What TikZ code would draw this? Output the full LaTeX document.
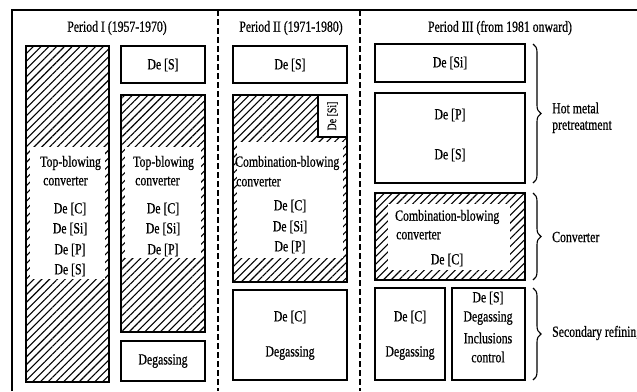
\documentclass[tikz,border=0pt]{standalone}
\usepackage{fontspec}
\setmainfont{Liberation Serif}[FakeStretch=0.76,FakeBold=0.6]
\usetikzlibrary{patterns.meta,decorations.pathreplacing}
\begin{document}
\begin{tikzpicture}[x=1pt,y=-1pt,
  box/.style={draw, line width=2pt, rectangle, inner sep=0pt, outer sep=0pt},
  whitebox/.style={box, fill=white},
  hatch/.style={pattern={Lines[angle=45,distance=5.5pt,line width=1.1pt]}},
  txt/.style={inner sep=0pt, font=\fontsize{15.5}{17}\selectfont},
  smalltxt/.style={inner sep=0pt, font=\fontsize{13}{15}\selectfont},
  ltxt/.style={txt, anchor=west},
  divider/.style={line width=1.3pt, dash pattern=on 6pt off 3pt},
  frame/.style={line width=1.6pt},
  bracestyle/.style={decorate, decoration={brace, amplitude=8pt}, line width=1.1pt}]
\useasboundingbox (0,0) rectangle (637,391);

% outer frame and dividers
\coordinate (tl) at (12,10);
\coordinate (tr) at (637,10);
\coordinate (bl) at (12,391);
\coordinate (d1t) at (218,10);
\coordinate (d1b) at (218,391);
\coordinate (d2t) at (360,10);
\coordinate (d2b) at (360,391);
\draw[frame] (bl) -- (tl) -- (tr);
\draw[divider] (d1t) -- (d1b);
\draw[divider] (d2t) -- (d2b);

% titles
\node[txt] (t1) at (117,28) {Period I (1957-1970)};
\node[txt] (t2) at (291,28) {Period II (1971-1980)};
\node[txt] (t3) at (500,28) {Period III (from 1981 onward)};

% hatched areas
\fill[hatch] (26,46) rectangle (109,382);
\fill[white] (30,147) rectangle (105,279);
\fill[hatch] (121,95) rectangle (205,332);
\fill[white] (125,147) rectangle (201,258);
\fill[hatch] (233,95) rectangle (347,282);
\fill[white] (237,142) rectangle (343,258);
\fill[hatch] (375,193) rectangle (525,280);
\fill[white] (388,204) rectangle (510,270);

% Period I boxes
\node[box, minimum width=83pt, minimum height=336pt] (p1conv) at (67.5,214) {};
\node[box, minimum width=84pt, minimum height=37pt] (p1des) at (163,64.5) {};
\node[box, minimum width=84pt, minimum height=237pt] (p1conv2) at (163,213.5) {};
\node[box, minimum width=84pt, minimum height=40pt] (p1deg) at (163,361) {};

% Period II boxes
\node[box, minimum width=114pt, minimum height=37pt] (p2des) at (290,64.5) {};
\node[box, minimum width=114pt, minimum height=187pt] (p2conv) at (290,188.5) {};
\node[whitebox, minimum width=29pt, minimum height=42pt] (p2dsi) at (332.5,116) {};
\node[box, minimum width=114pt, minimum height=90pt] (p2deg) at (290,335) {};

% Period III boxes
\node[box, minimum width=150pt, minimum height=38pt] (p3dsi) at (450,63) {};
\node[box, minimum width=150pt, minimum height=90pt] (p3dps) at (450,138) {};
\node[box, minimum width=150pt, minimum height=87pt] (p3conv) at (450,236.5) {};
\node[box, minimum width=70pt, minimum height=92pt] (p3dc) at (410,334) {};
\node[box, minimum width=73pt, minimum height=92pt] (p3ds) at (488.5,334) {};

% Period I texts
\node[ltxt] (a1) at (40,163) {Top-blowing};
\node[ltxt] (a2) at (43,181) {converter};
\node[txt] (a3) at (70,209) {De [C]};
\node[txt] (a4) at (70,229) {De [Si]};
\node[txt] (a5) at (70,250) {De [P]};
\node[txt] (a6) at (70,270) {De [S]};
\node[txt] (b0) at (163,65) {De [S]};
\node[ltxt] (b1) at (133,163) {Top-blowing};
\node[ltxt] (b2) at (135,181) {converter};
\node[txt] (b3) at (163,209) {De [C]};
\node[txt] (b4) at (163,229) {De [Si]};
\node[txt] (b5) at (163,250) {De [P]};
\node[txt] (b6) at (163,361) {Degassing};

% Period II texts
\node[txt] (c0) at (290,65) {De [S]};
\node[smalltxt, rotate=90] (c1) at (332.5,116) {De [Si]};
\node[ltxt] (c2) at (235,163) {Combination-blowing};
\node[ltxt] (c3) at (236,182) {converter};
\node[txt] (c4) at (290,206) {De [C]};
\node[txt] (c5) at (290,227) {De [Si]};
\node[txt] (c6) at (290,247) {De [P]};
\node[txt] (c7) at (290,317) {De [C]};
\node[txt] (c8) at (290,353) {Degassing};

% Period III texts
\node[txt] (e0) at (450,63) {De [Si]};
\node[txt] (e1) at (450,115) {De [P]};
\node[txt] (e2) at (450,155) {De [S]};
\node[ltxt] (e3) at (395,217) {Combination-blowing};
\node[ltxt] (e4) at (396,235) {converter};
\node[txt] (e5) at (447,260) {De [C]};
\node[txt] (e6) at (410,317) {De [C]};
\node[txt] (e7) at (410,353) {Degassing};
\node[txt] (e8) at (488,298) {De [S]};
\node[txt] (e9) at (488,318) {Degassing};
\node[txt] (e10) at (488,338) {Inclusions};
\node[txt] (e11) at (488,357) {control};

% braces and labels
\draw[bracestyle] ([xshift=8pt]p3dsi.north east) -- ([xshift=8pt]p3dps.south east);
\draw[bracestyle] ([xshift=8pt]p3conv.north east) -- ([xshift=8pt]p3conv.south east);
\draw[bracestyle] ([xshift=8pt]p3ds.north east) -- ([xshift=8pt]p3ds.south east);
\node[ltxt] (f1) at (552,108) {Hot metal};
\node[ltxt] (f2) at (552,127) {pretreatment};
\node[ltxt] (f3) at (552,237) {Converter};
\node[ltxt] (f4) at (552,333) {Secondary refining};
\end{tikzpicture}
\end{document}
